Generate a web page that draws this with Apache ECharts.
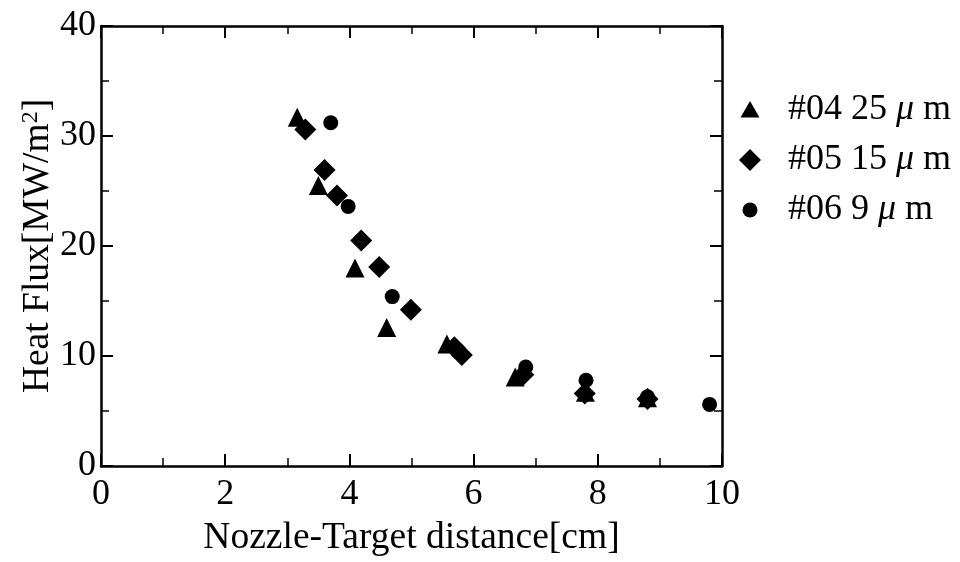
<!DOCTYPE html>
<html>
<head>
<meta charset="utf-8">
<script src="https://cdn.jsdelivr.net/npm/echarts@6/dist/echarts.min.js"></script>
<style>
  html, body { margin: 0; padding: 0; background: #fff; }
  #chart { width: 960px; height: 562px; }
</style>
</head>
<body>
<div id="chart"></div>
<script>
// Heat flux vs nozzle-target distance for three droplet sizes
const seriesNames = ['#04 25 μ m', '#05 15 μ m', '#06 9 μ m'];

// [distance (cm), heat flux (MW/m^2)]
const s04 = [[3.16, 31.7], [3.50, 25.5], [4.09, 18.0], [4.60, 12.6], [5.57, 11.1],
             [6.67, 8.1], [7.80, 6.7], [8.80, 6.2]];
const s05 = [[3.29, 30.6], [3.60, 26.9], [3.80, 24.6], [4.19, 20.5], [4.48, 18.1],
             [4.99, 14.2], [5.69, 10.8], [5.81, 10.1], [6.80, 8.3], [7.79, 6.6], [8.80, 6.1]];
const s06 = [[3.70, 31.2], [3.98, 23.6], [4.69, 15.4], [6.84, 9.0], [7.81, 7.8],
             [8.80, 6.3], [9.80, 5.6]];

const xTicks = [0, 2, 4, 6, 8, 10];
const yTicks = [0, 10, 20, 30, 40];

const FONT = 'Liberation Serif';
const black = '#000';

// Legend icons padded to a common 24x24 box so each keeps its own size
const legendIcons = [
  'path://M0,0 M24,24 M12,3 L21.5,19.5 L2.5,19.5 Z',
  'path://M0,0 M24,24 M12,1 L23,12 L12,23 L1,12 Z',
  'path://M0,0 M24,24 M4.5,12 A7.5,7.5 0 1,0 19.5,12 A7.5,7.5 0 1,0 4.5,12 Z'
];

const chart = echarts.init(document.getElementById('chart'));

// Boxed frame: every axis gets the same line and inward ticks
function frameAxis(extra) {
  return Object.assign({
    show: true,
    gridIndex: 0,
    axisLine: { show: true, onZero: false, lineStyle: { color: black, width: 2.5 } },
    axisTick: { show: true, inside: true, length: 12, lineStyle: { color: black, width: 2 } },
    minorTick: { show: true, splitNumber: 2, length: 8, lineStyle: { color: black, width: 1.5 } },
    splitLine: { show: false },
    minorSplitLine: { show: false }
  }, extra);
}

function legendLabel(name) {
  const parts = name.split('μ');
  return parts[0] + '{i|μ}' + parts[1];
}

chart.setOption({
  animation: false,
  backgroundColor: '#fff',
  grid: { left: 101, right: 238, top: 26, bottom: 94 },
  legend: {
    orient: 'vertical',
    left: 733,
    top: 87,
    itemGap: 14,
    itemWidth: 24,
    itemHeight: 24,
    data: seriesNames.map((n, i) => ({ name: n, icon: legendIcons[i] })),
    formatter: legendLabel,
    textStyle: {
      fontFamily: FONT, fontSize: 36, lineHeight: 36, color: black, padding: [0, 0, 0, 21],
      rich: { i: { fontFamily: FONT, fontStyle: 'italic', fontSize: 36, lineHeight: 36, color: black } }
    }
  },
  xAxis: [
    frameAxis({
      type: 'value', min: 0, max: 10, interval: 2, position: 'bottom',
      name: 'Nozzle-Target distance[cm]', nameLocation: 'middle', nameGap: 53,
      nameMoveOverlap: false,
      nameTextStyle: { fontFamily: FONT, fontSize: 37.5, color: black },
      axisLabel: { fontFamily: FONT, fontSize: 36, color: black, margin: 11,
                   customValues: xTicks }
    }),
    frameAxis({
      type: 'value', min: 0, max: 10, interval: 2, position: 'top',
      axisLabel: { show: false }
    })
  ],
  yAxis: [
    frameAxis({
      type: 'value', min: 0, max: 40, interval: 10, position: 'left',
      name: '{a|Heat Flux[MW/m}{s|2}{a|]}', nameLocation: 'middle', nameGap: 44,
      nameMoveOverlap: false,
      nameTextStyle: {
        rich: {
          a: { fontFamily: FONT, fontSize: 37.5, color: black },
          s: { fontFamily: FONT, fontSize: 24, color: black, verticalAlign: 'top', padding: [0, 0, 14, 0] }
        }
      },
      axisLabel: { fontFamily: FONT, fontSize: 36, color: black, margin: 5,
                   customValues: yTicks }
    }),
    frameAxis({
      type: 'value', min: 0, max: 40, interval: 10, position: 'right',
      axisLabel: { show: false }
    })
  ],
  series: [
    { name: seriesNames[0], type: 'scatter', symbol: 'triangle', symbolSize: 19,
      itemStyle: { color: black, opacity: 1 }, data: s04 },
    { name: seriesNames[1], type: 'scatter', symbol: 'diamond', symbolSize: 22,
      itemStyle: { color: black, opacity: 1 }, data: s05 },
    { name: seriesNames[2], type: 'scatter', symbol: 'circle', symbolSize: 15,
      itemStyle: { color: black, opacity: 1 }, data: s06 }
  ]
});
</script>
</body>
</html>
